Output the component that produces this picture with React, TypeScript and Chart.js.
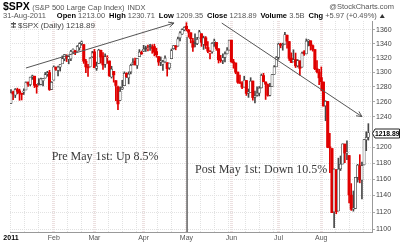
import React, { useEffect, useRef } from "react";
import { Chart, registerables } from "chart.js";
Chart.register(...registerables);

// Daily OHLC, $SPX, 3-Jan-2011 .. 31-Aug-2011 (one entry per trading day)
const opens = [
  1257.62,1272.95,1268.78,1276.29,1274.41,1270.84,1272.58,1275.65,1285.78,1282.90,1293.22,1294.52,1280.85,1283.63,1283.29,1288.17,1291.97,1297.51,1299.63,1276.50,
  1289.14,1306.87,1302.77,1307.01,1311.85,1318.76,1322.48,1318.13,1318.66,1328.73,1330.43,1329.51,1334.37,1340.38,1338.91,1315.44,1307.09,1307.34,1321.61,
  1328.64,1305.47,1312.37,1330.73,1322.72,1311.05,1319.92,1315.72,1293.43,1301.19,1288.46,1279.46,1261.61,1276.71,1281.65,1298.29,1292.19,1300.61,1311.80,1315.45,1309.37,1321.89,1327.44,
  1329.48,1333.56,1332.03,1335.94,1334.82,1336.16,1329.01,1321.96,1314.03,1311.13,1314.54,1313.35,1305.99,1319.12,1333.23,1337.14,1336.75,1348.43,1353.86,1360.14,
  1365.21,1359.76,1355.90,1344.16,1340.24,1340.20,1348.34,1354.51,1339.39,1348.69,1334.77,1326.10,1328.54,1342.40,1342.00,1333.07,1317.70,1316.36,1320.64,1325.69,1331.10,
  1345.20,1314.55,1312.94,1300.26,1286.31,1284.63,1279.63,1288.60,1271.31,1272.22,1287.87,1265.53,1268.58,1271.50,1278.40,1295.48,1286.60,1283.04,1268.44,1280.21,1296.85,1307.64,
  1320.64,1339.59,1337.56,1339.62,1352.39,1343.31,1319.61,1314.45,1317.74,1308.87,1315.94,1307.07,1328.66,1325.65,1343.80,1344.32,1337.39,1331.91,1304.84,1300.12,
  1292.59,1286.56,1254.25,1260.23,1200.28,1198.48,1120.23,1171.77,1121.30,1172.87,1178.86,1204.22,1192.89,1189.62,1140.47,1123.55,1124.36,1162.16,1176.69,1158.85,1177.91,1209.76,1213.00,
];
const highs = [
  1276.17,1274.12,1277.63,1278.17,1276.83,1271.52,1277.25,1286.87,1286.70,1293.24,1296.06,1294.60,1283.35,1291.21,1291.93,1291.26,1299.74,1301.29,1302.67,1287.17,
  1308.86,1307.61,1308.60,1311.00,1322.85,1324.87,1324.54,1322.78,1330.79,1332.96,1330.43,1337.61,1341.50,1344.07,1338.91,1317.91,1310.91,1320.61,1329.38,
  1332.09,1314.19,1332.28,1331.08,1327.68,1325.74,1323.21,1315.72,1308.35,1301.19,1288.46,1280.91,1279.82,1288.88,1300.58,1299.35,1300.51,1311.34,1319.18,1319.74,1319.45,1331.74,1329.77,
  1337.85,1336.74,1338.21,1339.38,1338.80,1339.46,1333.77,1321.96,1321.35,1316.79,1322.88,1313.35,1312.70,1332.66,1337.49,1337.55,1349.55,1357.49,1361.71,1364.56,
  1370.58,1360.84,1355.90,1348.00,1354.36,1349.44,1359.44,1354.51,1351.05,1350.47,1343.33,1330.42,1341.82,1346.82,1342.00,1333.07,1323.72,1325.86,1328.51,1334.62,1345.20,
  1345.20,1318.03,1312.94,1300.26,1296.22,1287.04,1294.54,1288.60,1277.04,1292.50,1287.87,1274.11,1279.82,1280.42,1297.62,1298.61,1286.79,1283.93,1284.91,1296.80,1309.21,1321.97,
  1341.01,1340.89,1340.94,1356.48,1352.39,1343.31,1327.17,1331.48,1326.88,1317.70,1315.94,1328.14,1330.43,1347.00,1346.10,1344.32,1338.51,1331.91,1316.32,1304.16,
  1307.38,1286.56,1261.20,1260.23,1218.11,1198.48,1172.88,1171.77,1186.29,1189.04,1204.49,1204.22,1208.47,1189.62,1154.54,1145.49,1162.35,1178.47,1190.68,1181.23,1210.08,1220.10,1230.71,
];
const lows = [
  1257.62,1262.66,1265.36,1270.43,1261.70,1262.18,1269.62,1275.65,1280.47,1281.24,1290.16,1278.92,1271.26,1282.07,1282.47,1281.07,1291.97,1294.41,1275.10,1276.50,
  1289.14,1302.62,1294.83,1301.67,1311.85,1316.03,1314.89,1311.74,1316.08,1326.90,1324.61,1329.51,1331.00,1338.12,1312.33,1299.55,1294.26,1307.34,1320.55,
  1306.14,1302.58,1312.37,1312.59,1303.99,1306.86,1312.27,1294.21,1291.99,1286.37,1261.12,1249.05,1261.61,1276.18,1281.65,1292.70,1284.05,1297.74,1310.15,1310.19,1305.26,1321.89,1325.03,
  1328.89,1329.10,1330.03,1330.66,1326.56,1322.94,1321.06,1309.51,1309.19,1302.42,1313.68,1294.70,1303.97,1319.12,1332.29,1331.47,1336.75,1344.25,1353.60,1358.69,
  1358.59,1349.52,1341.50,1329.17,1335.58,1338.64,1348.34,1336.36,1332.03,1333.36,1327.32,1318.51,1326.59,1336.36,1330.67,1312.88,1313.87,1311.80,1314.41,1325.69,1331.10,
  1313.71,1305.61,1297.90,1284.72,1284.74,1277.42,1279.63,1268.28,1265.64,1272.22,1261.90,1258.07,1267.40,1267.56,1278.40,1286.79,1262.88,1267.24,1267.53,1280.21,1296.85,1307.64,
  1318.18,1334.30,1330.92,1339.62,1333.71,1316.42,1313.33,1314.45,1306.51,1307.35,1295.92,1307.07,1323.65,1325.65,1336.95,1331.09,1329.59,1303.49,1299.16,1282.86,
  1274.73,1254.03,1234.56,1199.54,1168.09,1119.28,1101.54,1118.01,1121.30,1170.74,1178.86,1180.53,1184.36,1131.03,1122.05,1121.09,1124.36,1156.30,1155.47,1135.91,1177.91,1195.77,1209.35,
];
const closes = [
  1271.87,1270.20,1276.56,1273.85,1271.50,1269.75,1274.48,1285.96,1283.76,1293.24,1295.02,1281.92,1280.26,1283.35,1290.84,1291.18,1296.63,1299.54,1276.34,1286.12,
  1307.59,1304.03,1307.10,1310.87,1319.05,1324.57,1320.88,1321.87,1329.15,1332.32,1328.01,1336.32,1340.43,1343.01,1315.44,1307.40,1306.10,1319.88,1327.22,
  1306.33,1308.44,1330.97,1321.15,1310.13,1321.82,1320.02,1295.11,1304.28,1296.39,1281.87,1256.88,1273.72,1279.21,1298.38,1293.77,1297.54,1309.66,1313.80,1310.19,1319.44,1328.26,1325.83,
  1332.41,1332.87,1332.63,1335.54,1333.51,1328.17,1324.46,1314.16,1314.41,1314.52,1319.68,1305.14,1312.62,1330.36,1337.38,1335.25,1347.24,1355.66,1360.48,1363.61,
  1361.22,1356.62,1347.32,1335.10,1340.20,1346.29,1357.16,1342.08,1348.65,1337.77,1329.47,1328.98,1340.68,1343.60,1333.27,1317.37,1316.28,1320.47,1325.69,1331.10,1345.20,
  1314.55,1312.94,1300.16,1286.17,1284.94,1279.56,1289.00,1270.98,1271.83,1287.87,1265.42,1267.64,1271.50,1278.36,1295.52,1287.14,1283.50,1268.45,1280.10,1296.67,1307.41,1320.64,
  1339.67,1337.88,1339.22,1353.22,1343.80,1319.49,1313.64,1317.72,1308.87,1316.14,1305.44,1326.73,1325.84,1343.80,1345.02,1337.43,1331.94,1304.89,1300.67,1292.28,
  1286.94,1254.05,1260.34,1200.07,1199.38,1119.46,1172.53,1120.76,1172.64,1178.81,1204.49,1192.76,1193.89,1140.65,1123.53,1123.82,1162.35,1177.60,1159.27,1176.80,1210.08,1212.92,1218.89,
];

// x axis: trading-day index of each month start and its label
const monthStarts = [0, 20, 39, 62, 82, 103, 125, 145];
const monthLabels = ["2011", "Feb", "Mar", "Apr", "May", "Jun", "Jul", "Aug"];
// intermediate vertical grid lines (trading-day index)
const minorGrid = [6.5, 13, 26.5, 33, 45.5, 52, 58.5, 68.5, 75, 88.5, 95, 101.5, 109.5, 116, 122.5, 131.5, 138, 151.5, 158, 164.5];
// y axis (log scale) ticks
const yTicks = [1100, 1120, 1140, 1160, 1180, 1200, 1220, 1240, 1260, 1280, 1300, 1320, 1340, 1360];

// annotations drawn on the chart (in data units: day index, price)
const upTrend = [{ x: 7.0, y: 1305.9 }, { x: 76.2, y: 1370.0 }];
const downTrend = [{ x: 98.5, y: 1370.0 }, { x: 164.0, y: 1240.0 }];
const mayLine = [{ x: 82.3, y: 1350 }, { x: 82.3, y: 1090 }];
const noteTexts = ["Pre May 1st: Up 8.5%", "Post May 1st: Down 10.5%"];
const noteX = [19.0, 86.0];
const noteY = [1188.1, 1172.0];

// header texts
const titleSymbol = "$SPX";
const titleName = "(S&P 500 Large Cap Index)";
const titleExchange = "INDX";
const credit = "@StockCharts.com";
const quoteDate = "31-Aug-2011";
const quoteLabels = ["Open", "High", "Low", "Close", "Volume", "Chg"];
const quoteValues = ["1213.00", "1230.71", "1209.35", "1218.89", "3.5B", "+5.97 (+0.49%)"];
const legendText = "$SPX (Daily) 1218.89";

const SANS = '"Liberation Sans", Arial, sans-serif';

export default function App() {
  const ref = useRef<HTMLCanvasElement>(null);

  useEffect(() => {
    const idx = closes.map((_, i) => i);
    const up = idx.map((i) => (i === 0 ? closes[i] >= opens[i] : closes[i] >= closes[i - 1]));
    const col = idx.map((i) => (up[i] ? "#474747" : "#e00000"));
    const hollow = idx.map((i) => closes[i] >= opens[i]);

    const annot = {
      id: "annot",
      beforeDraw(chart: any) {
        const { ctx } = chart;
        ctx.save();
        ctx.fillStyle = "#fff";
        ctx.fillRect(0, 0, chart.width, chart.height);
        ctx.restore();
      },
      afterDatasetsDraw(chart: any) {
        const { ctx, scales } = chart;
        const xs = scales.x, ys = scales.y;
        ctx.save();
        const arrow = (pts: { x: number; y: number }[]) => {
          const x1 = xs.getPixelForValue(pts[0].x), y1 = ys.getPixelForValue(pts[0].y);
          const x2 = xs.getPixelForValue(pts[1].x), y2 = ys.getPixelForValue(pts[1].y);
          const a = Math.atan2(y2 - y1, x2 - x1);
          const L = 6, w = 0.45;
          ctx.beginPath();
          ctx.moveTo(x2 - L * Math.cos(a - w), y2 - L * Math.sin(a - w));
          ctx.lineTo(x2, y2);
          ctx.lineTo(x2 - L * Math.cos(a + w), y2 - L * Math.sin(a + w));
          ctx.strokeStyle = "#555";
          ctx.lineWidth = 1;
          ctx.stroke();
        };
        arrow(upTrend);
        arrow(downTrend);
        ctx.font = '12px "Liberation Serif", "Times New Roman", serif';
        ctx.fillStyle = "#3a3a3a";
        ctx.textBaseline = "middle";
        noteTexts.forEach((t, i) => {
          ctx.fillText(t, xs.getPixelForValue(noteX[i]), ys.getPixelForValue(noteY[i]));
        });
        ctx.restore();
      },
      afterDraw(chart: any) {
        const { ctx, scales, chartArea } = chart;
        ctx.save();
        // last price box on the right axis
        const v = closes[closes.length - 1];
        const py = Math.round(scales.y.getPixelForValue(v)) + 0.5;
        const x0 = chartArea.right + 0.5;
        ctx.font = "bold 6.8px " + SANS;
        ctx.beginPath();
        ctx.moveTo(x0, py);
        ctx.lineTo(x0 + 2.5, py - 4.5);
        ctx.lineTo(399.5, py - 4.5);
        ctx.lineTo(399.5, py + 4.5);
        ctx.lineTo(x0 + 2.5, py + 4.5);
        ctx.closePath();
        ctx.fillStyle = "#fff";
        ctx.fill();
        ctx.strokeStyle = "#222";
        ctx.lineWidth = 1;
        ctx.stroke();
        ctx.fillStyle = "#000";
        ctx.textBaseline = "middle";
        ctx.fillText(v.toFixed(2), x0 + 2.5, py + 0.5);

        // header line 1
        ctx.textBaseline = "alphabetic";
        let x = 3;
        ctx.font = "bold 10.5px " + SANS;
        ctx.fillStyle = "#000";
        ctx.fillText(titleSymbol, x, 9.5);
        x += ctx.measureText(titleSymbol).width + 2.5;
        ctx.font = "7.5px " + SANS;
        ctx.fillStyle = "#555";
        ctx.fillText(titleName, x, 9.5);
        x += ctx.measureText(titleName).width + 3;
        ctx.fillText(titleExchange, x, 9.5);
        ctx.textAlign = "right";
        ctx.fillText(credit, 394, 9);
        ctx.textAlign = "left";

        // header line 2
        const by = 18;
        x = 3;
        ctx.font = "7.5px " + SANS;
        ctx.fillStyle = "#555";
        ctx.fillText(quoteDate, x, by);
        x += ctx.measureText(quoteDate).width + 11;
        quoteLabels.forEach((l, i) => {
          ctx.font = "bold 7.5px " + SANS;
          ctx.fillStyle = "#000";
          ctx.fillText(l, x, by);
          x += ctx.measureText(l).width + 2.1;
          ctx.font = "7.5px " + SANS;
          ctx.fillStyle = "#555";
          ctx.fillText(quoteValues[i], x, by);
          x += ctx.measureText(quoteValues[i]).width + 3.9;
        });
        ctx.fillStyle = "#333";
        ctx.beginPath();
        ctx.moveTo(x - 1, by);
        ctx.lineTo(x + 4, by);
        ctx.lineTo(x + 1.5, by - 4);
        ctx.closePath();
        ctx.fill();

        // in-plot legend
        ctx.fillStyle = "#555";
        ctx.fillRect(11, 23, 5, 1.5);
        ctx.fillRect(11, 26.5, 5, 1);
        ctx.fillRect(13, 22, 1, 6);
        ctx.font = "8px " + SANS;
        ctx.fillStyle = "#444";
        ctx.fillText(legendText, 18, 28);
        ctx.restore();
      },
    };

    const xTicks = [...monthStarts, ...minorGrid].sort((a, b) => a - b);

    const chart = new Chart(ref.current as HTMLCanvasElement, {
      type: "bar",
      data: {
        datasets: [
          { type: "line", data: upTrend, borderColor: "#555", borderWidth: 1, pointRadius: 0, order: 0 } as any,
          { type: "line", data: downTrend, borderColor: "#555", borderWidth: 1, pointRadius: 0, order: 0 } as any,
          { type: "line", data: mayLine, borderColor: "#777", borderWidth: 1, pointRadius: 0, order: 0 } as any,
          {
            type: "bar",
            data: idx.map((i) => ({ x: i, y: [opens[i], closes[i]] })),
            backgroundColor: idx.map((i) => (hollow[i] ? "#ffffff" : col[i])),
            borderColor: col,
            borderWidth: idx.map((i) => (hollow[i] ? 0.7 : 0)),
            borderSkipped: false,
            barThickness: 2.4,
            minBarLength: 1,
            grouped: false,
            order: 1,
          } as any,
          {
            type: "bar",
            data: idx.map((i) => ({ x: i, y: [lows[i], highs[i]] })),
            backgroundColor: col,
            barThickness: 1,
            grouped: false,
            order: 2,
          } as any,
        ],
      },
      options: {
        animation: false,
        responsive: false,
        maintainAspectRatio: false,
        events: [],
        layout: { padding: { left: 10, top: 21, right: 0, bottom: 0 } },
        plugins: { legend: { display: false }, tooltip: { enabled: false } },
        scales: {
          x: {
            type: "linear",
            min: -0.45,
            max: 168.7,
            offset: false,
            afterBuildTicks: (s: any) => {
              s.ticks = xTicks.map((v) => ({ value: v }));
            },
            afterFit: (s: any) => {
              s.height = 11;
            },
            grid: {
              offset: false,
              drawTicks: false,
              color: (c: any) => (c.tick && monthStarts.includes(c.tick.value) && c.tick.value > 0 ? "rgba(236,224,224,1)" : "#e2e2e2"),
              lineWidth: (c: any) => (c.tick && monthStarts.includes(c.tick.value) && c.tick.value > 0 ? 3 : 1),
            },
            border: { display: true, color: "#999", dash: [1, 1] },
            ticks: {
              autoSkip: false,
              maxRotation: 0,
              padding: 2,
              color: (c: any) => (c.tick && c.tick.value === 0 ? "#000" : "#555"),
              font: (c: any) => ({ family: SANS, size: 7, weight: c.tick && c.tick.value === 0 ? "bold" : "normal" }),
              callback: (v: any) => {
                const k = monthStarts.indexOf(Number(v));
                return k >= 0 ? monthLabels[k] : "";
              },
            },
          } as any,
          y: {
            type: "logarithmic",
            position: "right",
            min: 1096.5,
            max: 1373,
            afterBuildTicks: (s: any) => {
              s.ticks = yTicks.map((v) => ({ value: v }));
            },
            afterFit: (s: any) => {
              s.width = 28;
            },
            grid: { color: "#e2e2e2", tickLength: 3, tickColor: "#aaa" },
            border: { display: true, color: "#999", dash: [1, 1] },
            ticks: {
              padding: 1,
              color: "#444",
              font: { family: SANS, size: 7 },
              callback: (v: any) => String(v),
            },
          } as any,
        },
      },
      plugins: [annot],
    } as any);
    return () => chart.destroy();
  }, []);

  return (
    <div style={{ position: "absolute", left: 0, top: 0, width: 400, height: 243, background: "#fff", overflow: "hidden" }}>
      <canvas ref={ref} width={400} height={243} style={{ position: "absolute", left: 0, top: 0, width: 400, height: 243 }} />
    </div>
  );
}
